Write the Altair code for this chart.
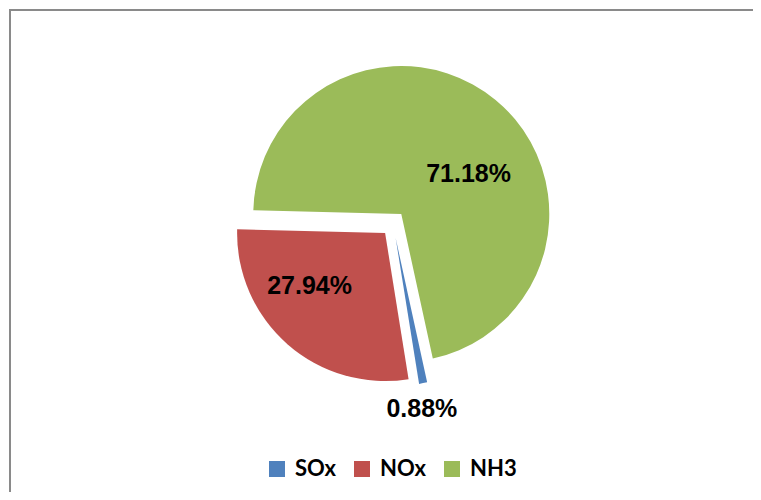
import math
import altair as alt
import pandas as pd

# ---- data ----
categories = ["SOx", "NOx", "NH3"]
shares = [0.88, 27.94, 71.18]
label_texts = ["0.88%", "27.94%", "71.18%"]
colors = ["#4F81BD", "#C0504D", "#9BBB59"]

# ---- styling (explosion and label placement, Excel-like) ----
explode_px = [14, 12, 13]
label_dist = [173, 92, 78]
label_turn = [2, 14, 20]  # degrees past slice mid-angle
START = math.radians(167.7)
R = 148
CX, CY = 384, 215
W, H = 745, 484

df = pd.DataFrame({
    "category": categories,
    "share": shares,
    "label": label_texts,
    "order": list(range(len(categories))),
    "explode": explode_px,
    "ldist": label_dist,
    "lturn": label_turn,
})

base = (
    alt.Chart(df)
    .transform_window(cum="sum(share)", sort=[alt.SortField("order")], frame=[None, 0])
    .transform_calculate(
        t0="datum.cum - datum.share",
        mid=f"{START} + 2*PI*(datum.cum - datum.share/2)/100",
    )
    .transform_calculate(
        px=f"{CX} + datum.explode*sin(datum.mid)",
        py=f"{CY} - datum.explode*cos(datum.mid)",
        la="datum.mid + datum.lturn*PI/180",
    )
    .transform_calculate(
        lx="datum.px + datum.ldist*sin(datum.la)",
        ly="datum.py - datum.ldist*cos(datum.la)",
    )
)

arc = base.mark_arc(radius=R).encode(
    theta=alt.Theta("t0:Q", scale=alt.Scale(domain=[0, 100], range=[START, START + 2 * math.pi]), stack=False),
    theta2="cum:Q",
    x=alt.X("px:Q", scale=None),
    y=alt.Y("py:Q", scale=None),
    color=alt.Color(
        "category:N",
        scale=alt.Scale(domain=categories, range=colors),
        legend=alt.Legend(
            title=None,
            orient="none",
            legendX=257,
            legendY=449,
            direction="horizontal",
            symbolType="square",
            symbolSize=256,
            symbolStrokeWidth=0,
            labelFont="Lato",
            labelFontSize=22,
            labelFontWeight="bold",
            labelColor="black",
            columnPadding=15,
            labelOffset=7,
        ),
    ),
)

labels = base.mark_text(
    font="Liberation Sans", fontSize=25, fontWeight="bold", color="black",
    align="center", baseline="middle",
).encode(
    x=alt.X("lx:Q", scale=None),
    y=alt.Y("ly:Q", scale=None),
    text="label:N",
)

one = pd.DataFrame({"k": [0]})
top_border = alt.Chart(one).mark_rule(color="#8a8a8a", strokeWidth=2).encode(
    x=alt.value(0), x2=alt.value(W), y=alt.value(1)
)
left_border = alt.Chart(one).mark_rule(color="#8a8a8a", strokeWidth=2).encode(
    x=alt.value(1), y=alt.value(0), y2=alt.value(H)
)

chart = (
    alt.layer(arc, labels, top_border, left_border)
    .properties(
        width=W, height=H, padding=0,
        autosize=alt.AutoSizeParams(type="fit", contains="padding"),
        background="white",
    )
    .configure_view(stroke=None)
)

chart.save("out.html", embed_options={"renderer": "svg", "actions": False})
